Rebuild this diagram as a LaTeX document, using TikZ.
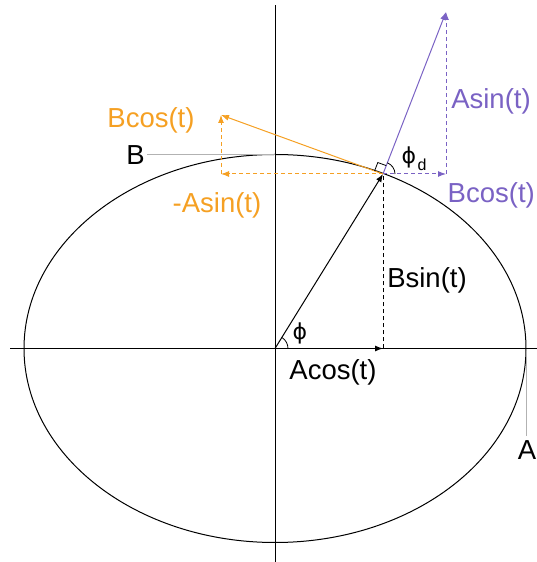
\documentclass[tikz,border=0pt]{standalone}
\usepackage{fontspec}
\setmainfont{Liberation Sans}
\newfontfamily\phifont{DejaVu Sans}
\usetikzlibrary{arrows.meta,calc}
\definecolor{vecpurple}{RGB}{122,98,196}
\definecolor{vecorange}{RGB}{245,160,35}

\begin{document}
\begin{tikzpicture}[x=1pt,y=1pt,
    lbl/.style={font=\fontsize{27.5}{32}\selectfont, inner sep=0pt},
    philbl/.style={font=\phifont\fontsize{22}{26}\selectfont, inner sep=0pt},
    vec/.style={-{Latex[length=8pt,width=6pt]}, line width=1pt},
    comp/.style={vec, dash pattern=on 4pt off 3pt},
    leader/.style={draw=gray!60, line width=1pt}]
    \useasboundingbox (0,0) rectangle (536,562);
    % axes and ellipse
    \coordinate (O) at (275,213.5);
    \coordinate (xl) at (10,213.5);  \coordinate (xr) at (545,213.5);
    \coordinate (yb) at (275,-2);    \coordinate (yt) at (275,557);
    \draw[line width=1pt] (xl) -- (xr);
    \draw[line width=1pt] (yb) -- (yt);
    \draw[line width=1pt] (O) ellipse[x radius=251, y radius=194];
    % point on the ellipse and its components
    \coordinate (P) at (383,388);
    \coordinate (Px) at (383,213.5);
    \draw[vec] (O) -- (P);
    \draw[comp] (O) -- (Px);
    \draw[dash pattern=on 4pt off 3pt, line width=1pt] (Px) -- (P);
    % purple vector
    \coordinate (ptip) at (446,550);
    \coordinate (pfoot) at (446,388);
    \draw[vec, vecpurple] (P) -- (ptip);
    \draw[comp, vecpurple] (P) -- (pfoot);
    \draw[comp, vecpurple] (pfoot) -- (ptip);
    % orange vector
    \coordinate (otip) at (221,447);
    \coordinate (ofoot) at (221,388);
    \draw[vec, vecorange] (P) -- (otip);
    \draw[comp, vecorange] (P) -- (ofoot);
    \draw[comp, vecorange] (ofoot) -- (otip);
    % angle marks
    \coordinate (ru) at ($(P)!9pt!(otip)$);
    \coordinate (rv) at ($(P)!9pt!(ptip)$);
    \draw[line width=0.8pt] (ru) -- ($(ru)+(rv)-(P)$) -- (rv);
    \draw[line width=0.8pt] ($(P)+(12,0)$) arc[start angle=0, end angle=68.9, radius=12];
    \draw[line width=0.8pt] ($(O)+(13,0)$) arc[start angle=0, end angle=58.2, radius=13];
    % axis ends
    \coordinate (Btop) at (275,407.5);
    \coordinate (Bend) at (147,407.5);
    \coordinate (Aend) at (526,211);
    \coordinate (Afoot) at (526,126);
    \draw[leader] (Bend) -- (Btop);
    \draw[leader] (Aend) -- (Afoot);
    \node[lbl, anchor=east] (Blbl) at ($(Bend)+(-2,-1)$) {B};
    \node[lbl, anchor=north] (Albl) at ($(Afoot)+(1,-4)$) {A};
    % labels
    \node[lbl] (acos) at (333,190) {Acos(t)};
    \node[lbl] (bsin) at (427,282) {Bsin(t)};
    \node[philbl] (phi) at (300,229) {ϕ};
    \node[philbl] (phid) at (409,405) {ϕ};
    \node[font=\fontsize{16}{19}\selectfont, inner sep=0pt] (dsub) at (422,397) {d};
    \node[lbl, text=vecpurple] (asinp) at (491,461) {Asin(t)};
    \node[lbl, text=vecpurple, anchor=east] (bcosp) at (535,367) {Bcos(t)};
    \node[lbl, text=vecorange] (bcoso) at (151,442) {Bcos(t)};
    \node[lbl, text=vecorange] (asino) at (217,357) {-Asin(t)};
\end{tikzpicture}
\end{document}
